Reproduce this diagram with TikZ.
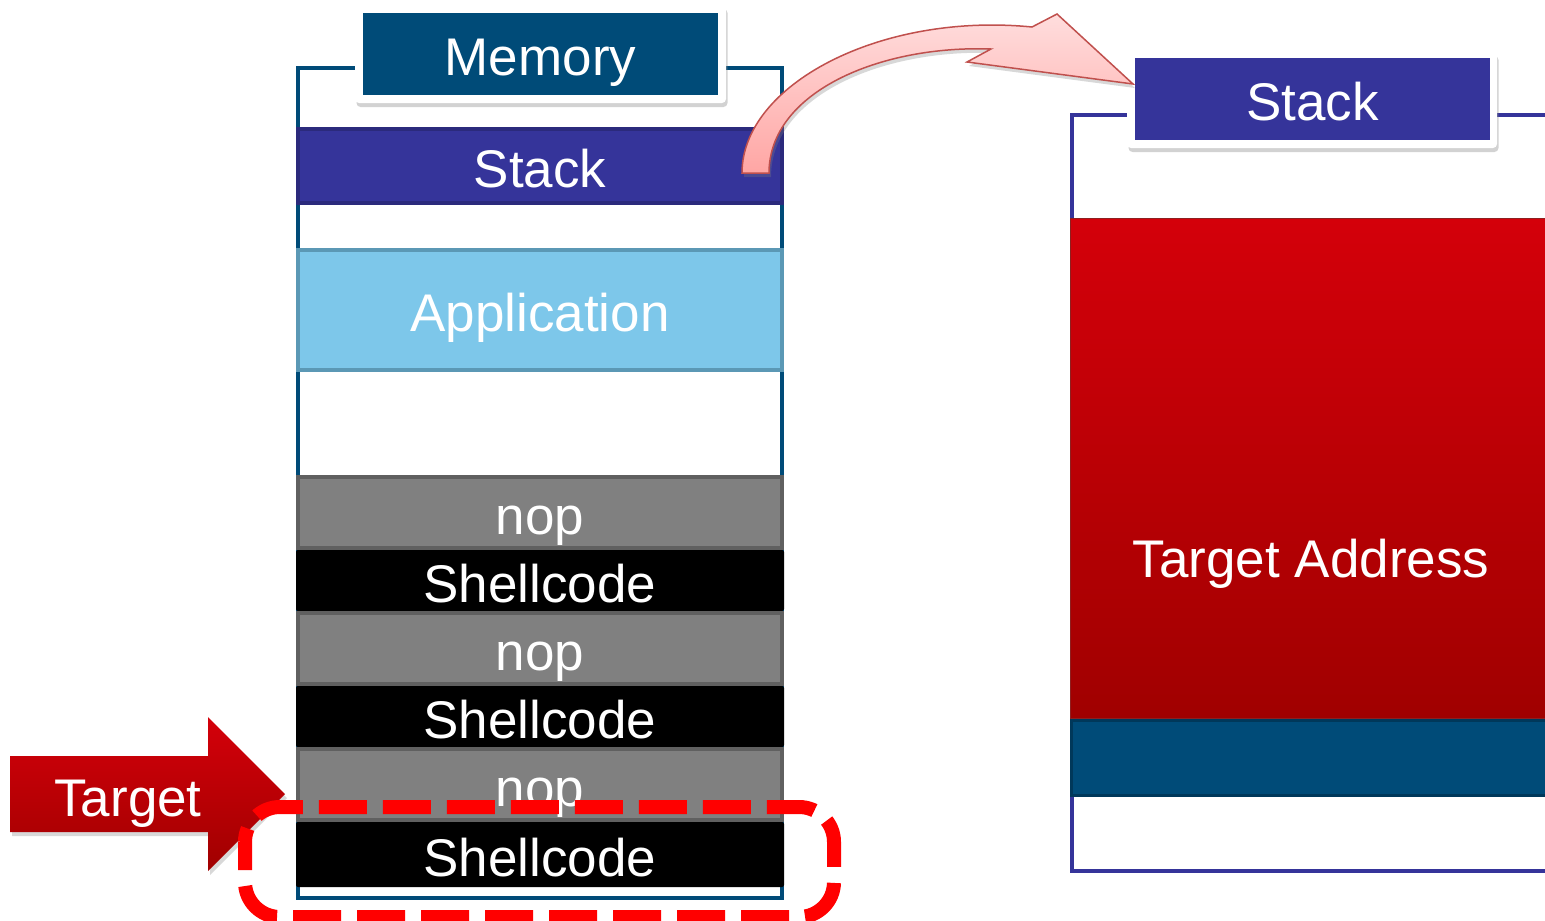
\documentclass[tikz,border=0pt]{standalone}
\usepackage{fontspec}
\setmainfont{Liberation Sans}
\usetikzlibrary{shadows}
\definecolor{memblue}{HTML}{004B78}
\definecolor{memblueD}{HTML}{00385A}
\definecolor{indigo}{HTML}{35349A}
\definecolor{indigoD}{HTML}{2B2A7C}
\definecolor{appblue}{HTML}{7DC7EA}
\definecolor{appborder}{HTML}{5B98B5}
\definecolor{nopgray}{HTML}{808080}
\definecolor{nopborder}{HTML}{606060}
\definecolor{tred}{HTML}{D4000A}
\definecolor{tmid}{HTML}{C00005}
\definecolor{tdark}{HTML}{A00000}
\definecolor{redborder}{HTML}{8E2020}
\definecolor{pinkT}{HTML}{FFDEDE}
\definecolor{pinkB}{HTML}{FFA6A4}
\definecolor{arrowline}{HTML}{C0504D}
\definecolor{dashred}{HTML}{FF0000}
\begin{document}
\begin{tikzpicture}[x=1pt,y=-1pt,
  lbl/.style={font=\fontsize{53}{60}\selectfont, text=white, text height=43pt, text depth=0pt},
  memlayer/.style={rectangle, minimum width=484pt, inner sep=0pt, line width=4pt, lbl},
  noplayer/.style={memlayer, fill=nopgray, draw=nopborder, minimum height=71pt},
  shlayer/.style={memlayer, fill=black, minimum width=488pt, rounded corners=2pt},
  frame/.style={rectangle, fill=white, rounded corners=4pt, inner sep=0pt,
     drop shadow={opacity=0.35, shadow xshift=1.5pt, shadow yshift=-4pt}},
  tag/.style={rectangle, inner sep=0pt, lbl}
]
\path[use as bounding box] (0,0) rectangle (1545,921);
\clip (0,0) rectangle (1545,921);
\fill[white] (0,0) rectangle (1545,921);

% ---------------- left: memory column ----------------
\node[draw=memblue, fill=white, line width=4pt, minimum width=484pt,
      minimum height=830pt, inner sep=0pt] (membox) at (540,483) {};
\node[memlayer, fill=indigo, draw=indigoD, minimum height=74pt] (stackL) at (540,166) {Stack};
\node[memlayer, fill=appblue, draw=appborder, minimum height=120pt] (app) at (540,310) {Application};
\node[noplayer] (nopA) at (540,512.5) {nop};
\node[shlayer, minimum height=61pt] (shA) at (540,580.5) {Shellcode};
\node[noplayer] (nopB) at (540,648.5) {nop};
\node[shlayer, minimum height=61pt] (shB) at (540,716.5) {Shellcode};
\node[noplayer] (nopC) at (540,784.5) {nop};
\node[shlayer, minimum height=65pt] (shC) at (540,854.5) {Shellcode};

\node[frame, minimum width=371pt, minimum height=98pt] (memframe) at (540.5,54) {};
\node[tag, fill=memblue, minimum width=355pt, minimum height=82pt] (memlabel) at (540.5,53.5) {Memory};

% ---------------- right: stack detail ----------------
\node[draw=indigo, fill=white, line width=4pt, minimum width=600pt, minimum height=756pt,
      inner sep=0pt, anchor=north west] (rbox) at (1070,113) {};
\node[rectangle, inner sep=0pt, draw=redborder, line width=1pt, top color=tred,
      middle color=tmid, bottom color=tdark, minimum width=600pt, minimum height=500pt,
      anchor=north west] (target) at (1070,218) {};
\node[rectangle, inner sep=0pt, fill=memblue, draw=memblueD, line width=3pt,
      minimum width=600pt, minimum height=75pt, anchor=north west] (blueblk) at (1070,719) {};
\node[tag] (tatext) at (1311,556) {Target Address};

\node[frame, minimum width=370pt, minimum height=96pt] (rframe) at (1312,100) {};
\node[tag, fill=indigo, minimum width=355pt, minimum height=82pt] (rstack) at (1312.5,99) {Stack};

% ---------------- curved block arrow ----------------
\path[draw=arrowline, line width=1.5pt, top color=pinkT, bottom color=pinkB,
      drop shadow={opacity=0.3, shadow xshift=2pt, shadow yshift=-4pt}]
  (742,173) .. controls (742,85) and (880,12) .. (1032,27)
  -- (1057,14) -- (1133,84) -- (967,62) -- (991,49)
  .. controls (880,45) and (769,92) .. (769,173) -- cycle;

% ---------------- target arrow ----------------
\path[top color=tred, bottom color=tdark,
      drop shadow={opacity=0.3, shadow xshift=2pt, shadow yshift=-4pt}]
  (10,756) -- (208,756) -- (208,717) -- (285,794) -- (208,871)
  -- (208,832) -- (10,832) -- cycle;
\node[tag] (tgt) at (128,795) {Target};

% ---------------- dashed highlight ----------------
\draw[dashred, line width=14pt, dash pattern=on 48pt off 16pt, dash phase=20pt,
      rounded corners=35pt] (245,807) rectangle (834,917);
\end{tikzpicture}
\end{document}
